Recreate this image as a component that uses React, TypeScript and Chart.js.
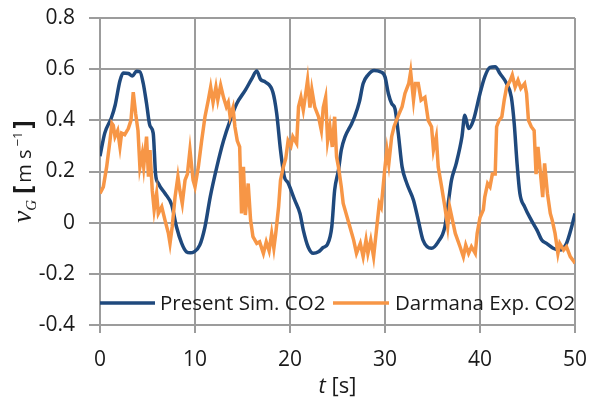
import React, { useEffect, useRef } from "react";
import { Chart, registerables } from "chart.js";

Chart.register(...registerables);

const simT = [0, 0.5, 1.2, 1.6, 2.1, 2.45, 3.0, 3.4, 3.85, 4.2, 4.55, 4.9, 5.25, 5.6, 5.85, 6.15, 6.85, 7.55, 8.05, 8.6, 9.1, 9.5, 9.9, 10.5, 11.05, 11.6, 12.3, 13.0, 13.7, 14.4, 15.3, 16.0, 16.5, 16.9, 17.4, 18.2, 18.6, 19.0, 19.4, 19.8, 20.5, 21.05, 21.4, 21.9, 22.45, 23.0, 23.5, 23.95, 24.4, 24.7, 25.1, 25.4, 25.8, 26.5, 26.8, 27.3, 27.7, 28.2, 28.85, 29.5, 30.0, 30.35, 30.7, 31.05, 31.4, 31.8, 32.3, 33.0, 33.5, 34.0, 34.9, 35.6, 36.3, 36.7, 37.0, 37.5, 38.1, 38.4, 38.8, 39.3, 40.0, 40.5, 41.05, 41.6, 42.1, 42.8, 43.3, 43.6, 43.9, 44.2, 44.7, 45.4, 46.0, 46.5, 47.0, 47.7, 48.4, 49.1, 49.65, 50];
const simV = [0.26, 0.35, 0.41, 0.46, 0.555, 0.585, 0.583, 0.573, 0.592, 0.59, 0.545, 0.466, 0.38, 0.35, 0.19, 0.153, 0.114, 0.069, -0.016, -0.081, -0.114, -0.118, -0.114, -0.088, -0.016, 0.10, 0.218, 0.32, 0.40, 0.466, 0.518, 0.564, 0.593, 0.56, 0.55, 0.51, 0.427, 0.284, 0.18, 0.155, 0.088, 0.036, -0.029, -0.094, -0.12, -0.114, -0.097, -0.084, -0.016, 0.127, 0.205, 0.284, 0.336, 0.388, 0.414, 0.472, 0.544, 0.577, 0.595, 0.59, 0.57, 0.505, 0.466, 0.446, 0.349, 0.218, 0.153, 0.088, 0.01, -0.068, -0.10, -0.075, -0.016, 0.088, 0.166, 0.232, 0.336, 0.42, 0.368, 0.40, 0.505, 0.57, 0.607, 0.609, 0.583, 0.544, 0.49, 0.388, 0.232, 0.114, 0.062, 0.01, -0.029, -0.068, -0.081, -0.10, -0.107, -0.081, -0.016, 0.036];

const expT = [0, 0.35, 0.7, 1.05, 1.25, 1.4, 1.58, 1.86, 2.1, 2.28, 2.6, 2.98, 3.26, 3.5, 3.75, 4.0, 4.2, 4.45, 4.6, 4.9, 5.1, 5.26, 5.5, 5.7, 5.96, 6.14, 6.5, 6.84, 7.2, 7.37, 7.6, 7.9, 8.2, 8.4, 8.66, 8.95, 9.2, 9.47, 9.8, 10.0, 10.35, 10.7, 11.05, 11.4, 11.65, 11.9, 12.2, 12.4, 12.7, 13.0, 13.3, 13.5, 13.7, 14.0, 14.2, 14.45, 14.7, 14.9, 15.1, 15.3, 15.6, 15.85, 16.1, 16.5, 16.8, 17.2, 17.5, 17.8, 18.07, 18.3, 18.5, 18.8, 19.0, 19.3, 19.55, 19.8, 20.1, 20.3, 20.7, 20.9, 21.15, 21.4, 21.6, 21.85, 22.1, 22.3, 22.6, 23.0, 23.3, 23.5, 23.75, 23.96, 24.2, 24.45, 24.7, 24.9, 25.1, 25.4, 25.6, 26.0, 26.3, 26.7, 27.0, 27.4, 27.7, 28.0, 28.2, 28.5, 28.8, 29.1, 29.4, 29.6, 29.8, 30.0, 30.2, 30.4, 30.7, 30.95, 31.2, 31.5, 31.8, 32.1, 32.5, 32.7, 33.0, 33.2, 33.5, 33.8, 34.2, 34.55, 34.9, 35.1, 35.4, 35.6, 35.96, 36.3, 36.6, 36.8, 37.1, 37.4, 37.9, 38.25, 38.5, 38.8, 39.1, 39.5, 39.7, 40.0, 40.35, 40.5, 40.8, 41.05, 41.3, 41.6, 41.75, 42.0, 42.3, 42.55, 42.8, 43.2, 43.4, 43.7, 44.0, 44.3, 44.7, 44.9, 45.1, 45.4, 45.7, 45.9, 46.1, 46.3, 46.6, 46.8, 47.1, 47.4, 47.6, 47.9, 48.2, 48.4, 48.8, 49.1, 49.5, 49.9, 50];
const expV = [0.114, 0.14, 0.218, 0.32, 0.388, 0.38, 0.336, 0.36, 0.296, 0.35, 0.344, 0.368, 0.40, 0.51, 0.427, 0.36, 0.218, 0.27, 0.218, 0.336, 0.18, 0.284, 0.127, 0.05, 0.114, 0.036, 0.062, 0.01, -0.042, -0.081, -0.016, 0.10, 0.18, 0.127, 0.075, 0.166, 0.19, 0.284, 0.166, 0.14, 0.218, 0.32, 0.414, 0.479, 0.53, 0.47, 0.53, 0.48, 0.537, 0.49, 0.453, 0.47, 0.414, 0.45, 0.375, 0.32, 0.296, 0.036, 0.218, 0.03, 0.153, 0.01, -0.055, -0.081, -0.075, -0.12, -0.075, -0.11, -0.042, -0.1, -0.042, 0.062, 0.166, 0.218, 0.25, 0.32, 0.30, 0.336, 0.31, 0.453, 0.49, 0.44, 0.49, 0.557, 0.45, 0.52, 0.453, 0.414, 0.36, 0.45, 0.49, 0.32, 0.375, 0.296, 0.414, 0.257, 0.218, 0.14, 0.075, 0.023, -0.016, -0.068, -0.12, -0.081, -0.133, -0.068, -0.12, -0.068, -0.133, -0.029, 0.075, 0.06, 0.14, 0.218, 0.284, 0.23, 0.336, 0.375, 0.40, 0.427, 0.453, 0.505, 0.544, 0.59, 0.479, 0.544, 0.544, 0.479, 0.49, 0.40, 0.375, 0.284, 0.336, 0.218, 0.14, 0.062, -0.016, 0.062, 0.01, -0.042, -0.094, -0.133, -0.088, -0.12, -0.094, -0.12, -0.042, 0.02, 0.05, 0.10, 0.153, 0.14, 0.19, 0.19, 0.375, 0.40, 0.414, 0.479, 0.53, 0.557, 0.577, 0.53, 0.557, 0.525, 0.544, 0.505, 0.40, 0.375, 0.36, 0.19, 0.296, 0.218, 0.10, 0.232, 0.114, 0.036, 0.01, -0.042, -0.12, -0.081, -0.107, -0.094, -0.133, -0.152, -0.16];

const xTicks = [0, 10, 20, 30, 40, 50];
const yTicks = [-0.4, -0.2, 0, 0.2, 0.4, 0.6, 0.8];
const seriesNames = ["Present Sim. CO2", "Darmana Exp. CO2"];
const seriesColors = ["#1F497D", "#F79646"];

const GRID = "#9c9c9c";
const TEXT = "#1a1a1a";
const FONT = "'Open Sans', 'DejaVu Sans', sans-serif";

const overlay = {
  id: "overlay",
  afterDraw(chart: any) {
    const { ctx, chartArea } = chart;
    const ca = chartArea;
    ctx.save();
    // legend
    const ly = 303;
    const items = [
      { x0: ca.left, x1: ca.left + 55, tx: ca.left + 60 },
      { x0: ca.left + 233, x1: ca.left + 289, tx: ca.left + 295 },
    ];
    items.forEach((it, i) => {
      ctx.strokeStyle = seriesColors[i];
      ctx.lineWidth = 3.5;
      ctx.beginPath();
      ctx.moveTo(it.x0, ly);
      ctx.lineTo(it.x1, ly);
      ctx.stroke();
      ctx.fillStyle = TEXT;
      ctx.font = `20.5px ${FONT}`;
      ctx.textBaseline = "middle";
      ctx.textAlign = "left";
      ctx.fillText(seriesNames[i], it.tx, ly + 1);
    });

    // x title
    ctx.textBaseline = "alphabetic";
    const xf1 = `italic 22px ${FONT}`;
    const xf2 = `22px ${FONT}`;
    ctx.font = xf1;
    const w1 = ctx.measureText("t").width;
    ctx.font = xf2;
    const w2 = ctx.measureText(" [s]").width;
    const cx = (ca.left + ca.right) / 2;
    const sx = cx - (w1 + w2) / 2;
    ctx.font = xf1;
    ctx.fillText("t", sx, 393);
    ctx.font = xf2;
    ctx.fillText(" [s]", sx + w1, 393);

    // y title
    const parts = [
      { t: "\u03bd", f: `italic 27px 'Liberation Serif', serif`, dy: 0, gap: 0 },
      { t: "G", f: `italic 15px 'Liberation Serif', serif`, dy: 5, gap: 6 },
      { t: "[", f: `bold 25px ${FONT}`, dy: 0, gap: 3 },
      { t: "m s", f: `20px ${FONT}`, dy: 0, gap: 3 },
      { t: "\u22121", f: `13px ${FONT}`, dy: -9, gap: 3 },
      { t: "]", f: `bold 25px ${FONT}`, dy: 0, gap: 0 },
    ];
    let total = 0;
    const widths = parts.map((p) => {
      ctx.font = p.f;
      const w = ctx.measureText(p.t).width;
      total += w + p.gap;
      return w;
    });
    const cy = (ca.top + ca.bottom) / 2;
    ctx.translate(31, cy);
    ctx.rotate(-Math.PI / 2);
    let px = -total / 2;
    parts.forEach((p, i) => {
      ctx.font = p.f;
      ctx.fillText(p.t, px, p.dy);
      px += widths[i] + p.gap;
    });
    ctx.restore();
  },
};

export default function App() {
  const ref = useRef<HTMLCanvasElement>(null);
  useEffect(() => {
    document.body.style.margin = "0";
    const canvas = ref.current!;
    const chart = new Chart(canvas, {
      type: "line",
      data: {
        datasets: [
          {
            label: seriesNames[0],
            data: simT.map((t, i) => ({ x: t, y: simV[i] })),
            borderColor: seriesColors[0],
            borderWidth: 3.5,
            pointRadius: 0,
            cubicInterpolationMode: "monotone",
            order: 2,
          },
          {
            label: seriesNames[1],
            data: expT.map((t, i) => ({ x: t, y: expV[i] })),
            borderColor: seriesColors[1],
            borderWidth: 3.5,
            pointRadius: 0,
            tension: 0,
            order: 1,
          },
        ],
      },
      options: {
        responsive: false,
        animation: false,
        layout: { padding: { left: 0, right: 15, top: 18, bottom: 0 } },
        plugins: { legend: { display: false }, tooltip: { enabled: false } },
        scales: {
          x: {
            type: "linear",
            min: 0,
            max: 50,
            afterFit: (s: any) => {
              s.height = 78;
              s.paddingLeft = 0;
              s.paddingRight = 0;
            },
            afterBuildTicks: (s: any) => {
              s.ticks = xTicks.map((v) => ({ value: v }));
            },
            grid: { color: GRID, lineWidth: 2, tickLength: 8 },
            border: { display: false },
            ticks: { font: { size: 21, family: FONT }, color: TEXT, padding: 14, maxRotation: 0 },
          },
          y: {
            type: "linear",
            min: -0.4,
            max: 0.8,
            afterFit: (s: any) => {
              s.width = 100;
              s.paddingTop = 0;
              s.paddingBottom = 0;
            },
            afterBuildTicks: (s: any) => {
              s.ticks = yTicks.map((v) => ({ value: v }));
            },
            grid: { color: GRID, lineWidth: 2, tickLength: 11 },
            border: { display: false },
            ticks: {
              font: { size: 21, family: FONT },
              color: TEXT,
              padding: 14,
              callback: (v: any) => String(Math.round(Number(v) * 10) / 10),
            },
          },
        },
      },
      plugins: [overlay],
    });
    return () => chart.destroy();
  }, []);
  return <canvas ref={ref} width={590} height={403} style={{ display: "block" }} />;
}
